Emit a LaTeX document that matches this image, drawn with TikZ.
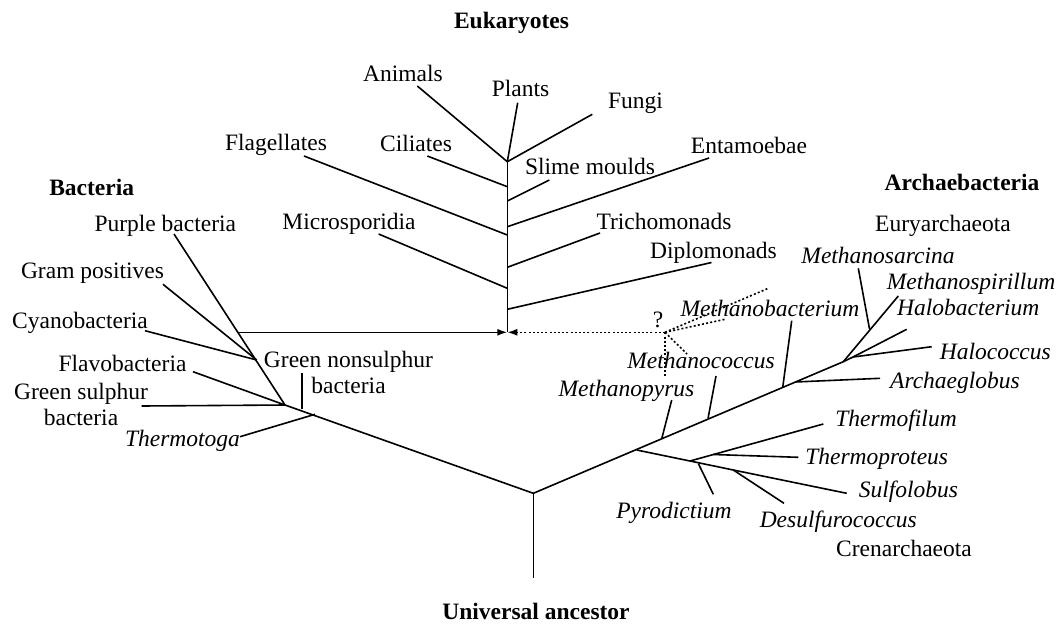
\documentclass[tikz,border=0pt]{standalone}
\usepackage{fontspec}
\setmainfont{Liberation Serif}
\usetikzlibrary{arrows.meta}

\tikzset{
  branch/.style={line width=1.6pt},
  guess/.style={line width=1.6pt, dash pattern=on 2pt off 2.2pt},
  taxon/.style={anchor=base, inner sep=0pt, align=center, font=\fontsize{23.5}{26}\selectfont},
  genus/.style={taxon, font=\fontsize{23.5}{26}\selectfont\itshape},
  kingdom/.style={taxon, font=\fontsize{23.5}{26}\selectfont\bfseries}
}

\begin{document}
\begin{tikzpicture}[x=1pt,y=-1pt, >={Latex[length=10pt,width=7pt]}]
\useasboundingbox (0,0) rectangle (1059,624);

% titles
\node[kingdom] (euk) at (511.5,28) {Eukaryotes};
\node[kingdom] (bac) at (91.7,195) {Bacteria};
\node[kingdom] (arc) at (962,190) {Archaebacteria};
\node[kingdom] (anc) at (536,619) {Universal ancestor};

% root
\coordinate (root) at (533.3,493.3);
\coordinate (root-b) at (533.3,578.3);
\draw[branch] (root) -- (root-b);

% eukaryotes
\coordinate (eubase) at (507.3,332.3);
\coordinate (eucrown) at (507.3,161.7);
\draw[branch] (eubase) -- (eucrown);
\foreach \n/\tx/\ty in {animals/417.3/86, plants/517.7/102.7, fungi/592.3/114.3}{
  \coordinate (\n-t) at (\tx,\ty);
  \draw[branch] (eucrown) -- (\n-t);
}
\foreach \n/\by/\tx/\ty in {cil/186.7/427.3/156, sli/201/549.3/180, ent/226.7/709/158,
    fla/235/304/156, tri/267.3/600/233, mic/288.3/378.6/234, dip/309.3/711.5/262.5}{
  \coordinate (\n-b) at (507.3,\by);
  \coordinate (\n-t) at (\tx,\ty);
  \draw[branch] (\n-b) -- (\n-t);
}
\node[taxon] (animals) at (403,81) {Animals};
\node[taxon] (plants) at (520.5,96) {Plants};
\node[taxon] (fungi) at (635.5,108) {Fungi};
\node[taxon] (fla) at (276,150) {Flagellates};
\node[taxon] (cil) at (416,151) {Ciliates};
\node[taxon] (sli) at (590,174) {Slime moulds};
\node[taxon] (ent) at (749,153) {Entamoebae};
\node[taxon] (mic) at (349,229) {Microsporidia};
\node[taxon] (tri) at (664,229) {Trichomonads};
\node[taxon] (dip) at (713.5,258) {Diplomonads};

% bacteria
\coordinate (b1) at (285,405);
\coordinate (b2) at (256.7,360);
\coordinate (bout) at (238.3,332.3);
\coordinate (purple-t) at (174,234);
\draw[branch] (root) -- (b1) -- (purple-t);
\foreach \n/\bx/\by/\tx/\ty in {gram/256.7/360/163/284.3, cyano/256.7/360/145/330.7,
    flavo/285/405/193/371.7, gsul/285/405/141.7/406, gnon/301.7/409.3/301.7/373.3,
    ttoga/315/414.3/240/436.7}{
  \coordinate (\n-b) at (\bx,\by);
  \coordinate (\n-t) at (\tx,\ty);
  \draw[branch] (\n-b) -- (\n-t);
}
\draw[branch, ->] (bout) -- (eubase);
\node[taxon] (purple) at (165.3,231) {Purple bacteria};
\node[taxon] (gram) at (92.5,278) {Gram positives};
\node[taxon] (cyano) at (80,328) {Cyanobacteria};
\node[taxon] (flavo) at (122.5,371) {Flavobacteria};
\node[taxon] (gsul) at (81,425) {Green sulphur\\bacteria};
\node[genus] (ttoga) at (182.5,446) {Thermotoga};
\node[taxon] (gnon) at (348.5,393) {Green nonsulphur\\bacteria};

% archaebacteria
\coordinate (a1) at (843.3,361.7);
\coordinate (a2) at (853,357);
\coordinate (spir-t) at (898.3,296);
\draw[branch] (root) -- (a1) -- (spir-t);
\foreach \n/\bx/\by/\tx/\ty in {pyrus/661.7/438.8/671.7/400, coccus/708/418.5/716/376,
    mbact/782.7/387.4/791.7/320.7, aglob/795/382/880/378.3, sarc/869.5/329/858.3/268.3,
    a12/843.3/361.7/853/357, hbact/853/357/906.7/329.3, hcoc/853/357/931.7/346.7}{
  \coordinate (\n-b) at (\bx,\by);
  \coordinate (\n-t) at (\tx,\ty);
  \draw[branch] (\n-b) -- (\n-t);
}
% crenarchaeota
\coordinate (c0) at (636.7,450);
\coordinate (c1) at (690,461);
\coordinate (c2) at (733.3,470);
\coordinate (sulfo-t) at (846.7,493.3);
\draw[branch] (c0) -- (c1) -- (c2) -- (sulfo-t);
\foreach \n/\bx/\by/\tx/\ty in {tfil/690/461/823.3/424, tprot/713.3/454.5/798.3/457.3,
    pyro/698.3/463.5/713.3/494.3, desul/733.3/470/784/503.3}{
  \coordinate (\n-b) at (\bx,\by);
  \coordinate (\n-t) at (\tx,\ty);
  \draw[branch] (\n-b) -- (\n-t);
}

% possible eukaryote roots
\coordinate (q) at (665,332.3);
\draw[guess, ->] (q) -- (eubase);
\foreach \tx/\ty in {768.3/288.3, 725/319.3, 687/354, 665/378}
  \draw[guess] (q) -- (\tx,\ty);
\node[taxon] (qmark) at (658,327) {?};

\node[taxon] (eury) at (943,231) {Euryarchaeota};
\node[taxon] (cren) at (904,556) {Crenarchaeota};
\node[genus] (sarc) at (878,263) {Methanosarcina};
\node[genus] (spir) at (971,289) {Methanospirillum};
\node[genus] (hbact) at (968.3,315) {Halobacterium};
\node[genus] (hcoc) at (995.3,359) {Halococcus};
\node[genus] (aglob) at (955,388) {Archaeglobus};
\node[genus] (mbact) at (770,316) {Methanobacterium};
\node[genus] (coccus) at (701,368) {Methanococcus};
\node[genus] (pyrus) at (626.5,396) {Methanopyrus};
\node[genus] (tfil) at (896,426) {Thermofilum};
\node[genus] (tprot) at (876.7,464) {Thermoproteus};
\node[genus] (sulfo) at (908.5,497) {Sulfolobus};
\node[genus] (pyro) at (674,518) {Pyrodictium};
\node[genus] (desul) at (838.3,527) {Desulfurococcus};
\end{tikzpicture}
\end{document}
